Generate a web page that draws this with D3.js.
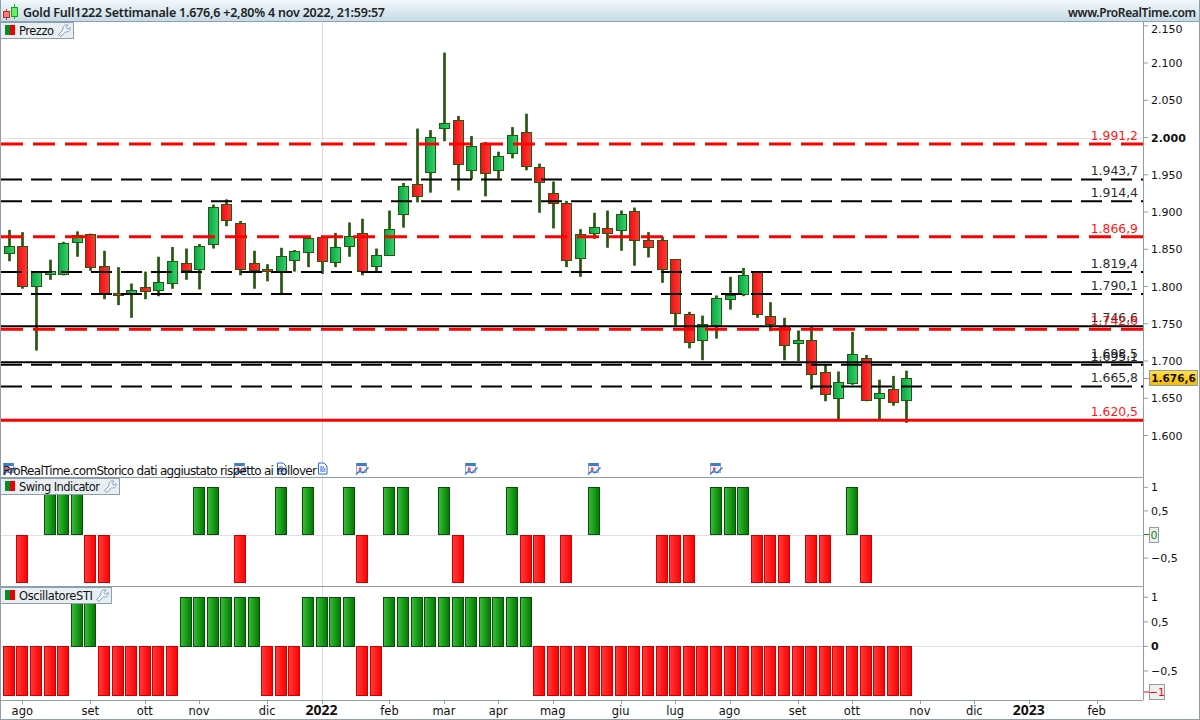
<!DOCTYPE html>
<html><head><meta charset="utf-8">
<script src="https://cdn.jsdelivr.net/npm/d3@7"></script>
<style>html,body{margin:0;padding:0;background:#fff;overflow:hidden}svg{display:block}text{font-family:"DejaVu Sans",sans-serif}</style>
</head><body><svg id="c" width="1200" height="720"></svg>
<script>
const title="Gold Full1222 Settimanale 1.676,6 +2,80% 4 nov 2022, 21:59:57";
const site="www.ProRealTime.com";
const opens=[1845,1854,1801,1817,1817,1860,1870,1827,1791,1791,1800,1795,1805,1831,1823,1858,1911,1885,1831,1823,1821,1836,1846,1866,1833,1855,1872,1827,1842,1897,1937,1954,2012,2023,1956,1992,1956,1979,2007,1960,1925,1912,1838,1872,1878,1875,1901,1862,1862,1837,1763,1728,1748,1783,1789,1819,1760,1747,1724,1728,1685,1651,1670,1704,1650,1662,1647];
const closes=[1854,1800,1820,1821,1858,1869,1826,1791,1788,1795,1795,1806,1834,1821,1854,1907,1889,1823,1821,1821,1841,1848,1865,1834,1853,1868,1821,1842,1877,1935,1921,2001,2019,1964,1988,1952,1975,2003,1962,1940,1912,1836,1870,1880,1871,1897,1862,1852,1823,1764,1725,1750,1784,1789,1815,1762,1749,1722,1728,1683,1655,1672,1709,1648,1657,1644,1676.6];
const highs=[1876,1873,1820,1836,1860,1874,1871,1848,1826,1804,1820,1840,1853,1851,1857,1910,1917,1888,1848,1830,1852,1849,1867,1868,1872,1886,1891,1851,1902,1939,2012,2010,2114,2029,2002,1994,1981,2014,2032,1965,1941,1915,1877,1899,1902,1902,1906,1873,1867,1837,1766,1761,1788,1813,1825,1820,1779,1758,1741,1746,1695,1686,1739,1708,1675,1680,1687];
const lows=[1834,1797,1714,1809,1815,1840,1821,1783,1775,1758,1783,1787,1797,1809,1796,1851,1881,1815,1797,1807,1791,1820,1826,1817,1826,1840,1815,1821,1842,1879,1913,1926,1995,1929,1944,1921,1945,1972,1956,1899,1878,1826,1813,1864,1852,1848,1828,1839,1805,1748,1717,1701,1730,1769,1787,1758,1740,1701,1700,1662,1646,1622,1668,1646,1622,1640,1617];
const swing=[0,-1,0,1,1,1,-1,-1,0,0,0,0,0,0,1,1,0,-1,0,0,1,0,1,0,0,1,-1,0,1,1,0,0,1,-1,0,0,0,1,-1,-1,0,-1,0,1,0,0,0,0,-1,-1,-1,0,1,1,1,-1,-1,-1,0,-1,-1,0,1,-1,0,0,0];
const osc=[-1,-1,-1,-1,-1,1,1,-1,-1,-1,-1,-1,-1,1,1,1,1,1,1,-1,-1,-1,1,1,1,1,-1,-1,1,1,1,1,1,1,1,1,1,1,1,-1,-1,-1,-1,-1,-1,-1,-1,-1,-1,-1,-1,-1,-1,-1,-1,-1,-1,-1,-1,-1,-1,-1,-1,-1,-1,-1,-1];
const lineValues=[1991.2,1943.7,1914.4,1866.9,1819.4,1790.1,1746.6,1742.6,1698.5,1695.1,1665.8,1620.5];
const lineLabels=["1.991,2","1.943,7","1.914,4","1.866,9","1.819,4","1.790,1","1.746,6","1.742,6","1.698,5","1.695,1","1.665,8","1.620,5"];
const lineColors=["red","black","black","red","black","black","black","red","black","black","black","red"];
const lineDashed=[1,1,1,1,1,1,0,1,0,1,1,0];
const priceTicks=[2150,2100,2050,2000,1950,1900,1850,1800,1750,1700,1650,1600];
const priceTickLabels=["2.150","2.100","2.050","2.000","1.950","1.900","1.850","1.800","1.750","1.700","1.650","1.600"];
const swingTicks=[1,0.5,-0.5];
const oscTicks=[1,0.5,0,-0.5];
const tickText={"1":"1","0.5":"0,5","0":"0","-0.5":"−0,5"};
const monthIdx=[1,6,10,14,19,23,28,32,36,40,45,49,53,58,62,67,71,75,80];
const monthLabels=["ago","set","ott","nov","dic","2022","feb","mar","apr","mag","giu","lug","ago","set","ott","nov","dic","2023","feb"];
const eventIdx=[0,17,20,23,26,34,43,52];
const eventKinds=["c","c","d","d","c","c","c","c"];

const svg=d3.select("#c");
const W=1200,H=720,R=1143;
const x=d3.scaleLinear().domain([0,80]).range([8.7,1096.7]);
const y=d3.scaleLinear().domain([1600,2150]).range([435.5,25.8]);
const ys=d3.scaleLinear().domain([-1,1]).range([581.7,487.3]);
const yo=d3.scaleLinear().domain([-1,1]).range([695.5,597.3]);
const axisCol="#8f9ea8", wick="#25570f";
const defs=svg.append("defs");
function grad(id,a,b){const g=defs.append("linearGradient").attr("id",id);g.append("stop").attr("offset","0").attr("stop-color",a);g.append("stop").attr("offset","1").attr("stop-color",b);}
grad("cg","#0ca344","#34d468");grad("cr","#f01010","#ff3a3a");
grad("bg","#38c038","#007800");grad("br","#ff3c3c","#fa0000");
const hg=defs.append("linearGradient").attr("id","hd").attr("x2","0").attr("y2","1");
hg.append("stop").attr("offset","0").attr("stop-color","#f2f8fb");hg.append("stop").attr("offset","1").attr("stop-color","#c3dae6");
svg.append("rect").attr("width",W).attr("height",H).attr("fill","#fff");
const snap=v=>Math.round(v)+.5;

// grid
svg.append("line").attr("x1",1).attr("x2",R).attr("y1",snap(y(2000))).attr("y2",snap(y(2000))).attr("stroke","#e2e2e6");
svg.append("line").attr("x1",snap(x(23))).attr("x2",snap(x(23))).attr("y1",22).attr("y2",700).attr("stroke","#dcdce0");
svg.append("line").attr("x1",1).attr("x2",R).attr("y1",snap(ys(0))).attr("y2",snap(ys(0))).attr("stroke","#e0e0ea");
svg.append("line").attr("x1",1).attr("x2",R).attr("y1",snap(yo(0))).attr("y2",snap(yo(0))).attr("stroke","#e0e0ea");

// candles
const idx=d3.range(opens.length);
svg.append("g").selectAll("line").data(idx).join("line")
 .attr("x1",i=>Math.round(x(i))+.5).attr("x2",i=>Math.round(x(i))+.5).attr("y1",i=>y(highs[i])).attr("y2",i=>y(lows[i]))
 .attr("stroke",wick).attr("stroke-width",2.7);
svg.append("g").selectAll("rect").data(idx).join("rect")
 .attr("x",i=>Math.round(x(i))-4.5).attr("width",10)
 .attr("y",i=>snap(y(Math.max(opens[i],closes[i]))))
 .attr("height",i=>Math.max(2,Math.round(Math.abs(y(opens[i])-y(closes[i])))))
 .attr("fill",i=>closes[i]>=opens[i]?"url(#cg)":"url(#cr)")
 .attr("stroke",wick).attr("stroke-width",1);

// level lines
const lg=svg.append("g");
lineValues.forEach((v,i)=>{
 const red=lineColors[i]==="red";
 const l=lg.append("line").attr("x1",1).attr("x2",R).attr("y1",y(v)).attr("y2",y(v))
  .attr("stroke",red?"#ff0000":"#000").attr("stroke-width",red?3:2);
 if(lineDashed[i]) l.attr("stroke-dasharray",red?"22 10":"21 9");
 lg.append("text").attr("x",1138).attr("y",y(v)-4).attr("text-anchor","end")
  .attr("font-size",12.4).attr("fill",red?"#ff0000":"#111").attr("opacity",.9).text(lineLabels[i]);
});

// indicator bars
function bars(data,sc){
 svg.append("g").selectAll("rect").data(idx.filter(i=>data[i]!==0)).join("rect")
  .attr("x",i=>Math.round(x(i))-5.5).attr("width",11)
  .attr("y",i=>snap(Math.min(sc(data[i]),sc(0)))).attr("height",i=>Math.round(Math.abs(sc(data[i])-sc(0))))
  .attr("fill",i=>data[i]>0?"url(#bg)":"url(#br)")
  .attr("stroke",i=>data[i]>0?"#0b4d0b":"#cc0000").attr("stroke-width",1);
}
bars(swing,ys);bars(osc,yo);

// header
svg.append("rect").attr("x",0).attr("y",0).attr("width",W).attr("height",22).attr("fill","url(#hd)");
svg.append("line").attr("x1",0).attr("x2",W).attr("y1",21.5).attr("y2",21.5).attr("stroke",axisCol);
svg.append("text").attr("x",23).attr("y",16.5).attr("font-size",12.5).attr("font-weight",600).style("font-family",'"Noto Sans",sans-serif').attr("fill","#222").attr("textLength",362).attr("lengthAdjust","spacing").text(title);
svg.append("text").attr("x",1196).attr("y",16.5).attr("text-anchor","end").attr("font-size",12).attr("font-weight",600).style("font-family",'"Noto Sans",sans-serif').attr("fill","#222").attr("textLength",128).attr("lengthAdjust","spacing").text(site);
// header candle icon
const hi=svg.append("g");
hi.append("line").attr("x1",6.5).attr("x2",6.5).attr("y1",9).attr("y2",20).attr("stroke","#c33");
hi.append("rect").attr("x",3.5).attr("y",11.5).attr("width",6).attr("height",6).attr("fill","#f77").attr("stroke","#a33");
hi.append("line").attr("x1",14.5).attr("x2",14.5).attr("y1",4).attr("y2",19).attr("stroke","#2a2");
hi.append("rect").attr("x",11.5).attr("y",7.5).attr("width",6).attr("height",9).attr("fill","#6e6").attr("stroke","#292");

// borders
const b=svg.append("g").attr("stroke",axisCol).attr("fill","none");
b.append("line").attr("x1",R+.5).attr("x2",R+.5).attr("y1",22).attr("y2",700);
b.append("line").attr("x1",.5).attr("x2",.5).attr("y1",0).attr("y2",719);
b.append("line").attr("x1",1199.5).attr("x2",1199.5).attr("y1",0).attr("y2",719);
b.append("line").attr("x1",0).attr("x2",W).attr("y1",719.5).attr("y2",719.5);
[477.5,586.5,700.5].forEach(v=>b.append("line").attr("x1",0).attr("x2",R).attr("y1",v).attr("y2",v));

// right axes
function axis(ticks,sc,labelFn,boldVal){
 const g=svg.append("g");
 ticks.forEach((t,i)=>{
  g.append("line").attr("x1",R+1).attr("x2",R+5).attr("y1",sc(t)).attr("y2",sc(t)).attr("stroke",axisCol);
  g.append("text").attr("x",1151).attr("y",Math.max(sc(t),29)+4).attr("font-size",11)
   .attr("font-weight",t===boldVal?"bold":"normal").attr("fill","#111").text(labelFn(t,i));
 });
}
axis(priceTicks,y,(t,i)=>priceTickLabels[i],2000);
axis(swingTicks,ys,t=>tickText[t]);
axis(oscTicks,yo,t=>tickText[t],0);

// value tags
function tag(x0,yc,w,txt,col,bg,bold,tick,fs){
 svg.append("line").attr("x1",R+1).attr("x2",x0).attr("y1",yc).attr("y2",yc).attr("stroke",tick);
 svg.append("rect").attr("x",x0+.5).attr("y",Math.round(yc-8)+.5).attr("width",w).attr("height",15).attr("fill",bg).attr("stroke",axisCol);
 svg.append("text").attr("x",x0+w/2+.5).attr("y",yc+4).attr("text-anchor","middle").attr("font-size",fs).attr("font-weight",bold?"bold":"normal").attr("fill",col).text(txt);
}
const tg=defs.append("linearGradient").attr("id","yl").attr("x2","0").attr("y2","1");
tg.append("stop").attr("offset","0").attr("stop-color","#ffe14a");tg.append("stop").attr("offset","1").attr("stop-color","#f5b800");
tag(1149,y(closes[closes.length-1]),48,"1.676,6","#111","url(#yl)",true,axisCol,10.5);
tag(1149,ys(0),9,"0","#118a11","#efefef",false,"#118a11",11);
tag(1149,yo(-1)-3.5,15,"−1","#ff0000","#efefef",false,"#ff0000",11);

// x axis
monthIdx.forEach((m,i)=>{
 const big=/^20/.test(monthLabels[i]);
 svg.append("line").attr("x1",snap(x(m))).attr("x2",snap(x(m))).attr("y1",701).attr("y2",704).attr("stroke",axisCol);
 const t=svg.append("text").attr("x",x(m)).attr("y",big?715:714.5).attr("text-anchor","middle").attr("font-size",big?14:11.5)
  .attr("font-weight",big?"bold":"normal").attr("fill","#111").text(monthLabels[i]);
 if(big) t.style("font-family",'"Noto Sans",sans-serif');
});

// event icons
eventIdx.forEach((e,i)=>{
 const g=svg.append("g").attr("transform",`translate(${Math.round(x(e))-6},462.5)`);
 if(eventKinds[i]==="c"){
  g.append("rect").attr("x",.5).attr("y",1).attr("width",10).attr("height",9).attr("fill","#eef0f6").attr("stroke","#aab");
  g.append("rect").attr("x",.5).attr("y",.5).attr("width",10).attr("height",3).attr("fill","#3a80c0");
  g.append("rect").attr("x",3).attr("y",5).attr("width",2.5).attr("height",2.5).attr("fill","#f44");
  g.append("path").attr("d","M0 12L4 8L7 10.5L12.5 5").attr("fill","none").attr("stroke","#2a6ae0").attr("stroke-width",1.2);
 }else{
  g.append("path").attr("d","M2.5 .5H8L11 3.5V11.5H2.5Z M4 4.5H8 M4 6.5H9.5 M4 8.5H9.5").attr("fill","#fff").attr("stroke","#2f63d6");
 }
});
svg.append("text").attr("x",3).attr("y",475).attr("font-size",12).attr("fill","#111").attr("textLength",314).attr("lengthAdjust","spacing").text("ProRealTime.comStorico dati aggiustato rispetto ai rollover");

// legends
function legend(yt,w,label,tl){
 const g=svg.append("g");
 g.append("rect").attr("x",.5).attr("y",yt+.5).attr("width",w).attr("height",16).attr("fill","#e8eff3").attr("stroke",axisCol);
 g.append("rect").attr("x",5).attr("y",yt+3).attr("width",5).attr("height",10).attr("fill","#0a8a2a");
 g.append("rect").attr("x",10).attr("y",yt+3).attr("width",5).attr("height",10).attr("fill","#ee0000");
 g.append("text").attr("x",19).attr("y",yt+12.5).attr("font-size",11.5).attr("fill","#111").attr("textLength",tl).attr("lengthAdjust","spacing").text(label);
 g.append("path").attr("transform",`translate(${w-15},${yt+2})`)
  .attr("d","M.5 10.5L5 6C4 3 6.5 .3 10 1L8 3.5L9.5 5.5L12 3.5C12.7 6.5 10.5 8.7 7.5 7.7L3 12.5Z")
  .attr("fill","#f4f8fb").attr("stroke","#7e9fc0");
}
legend(22,73,"Prezzo",35);
legend(478,119,"Swing Indicator",81);
legend(587,111,"OscillatoreSTI",74);
</script></body></html>
